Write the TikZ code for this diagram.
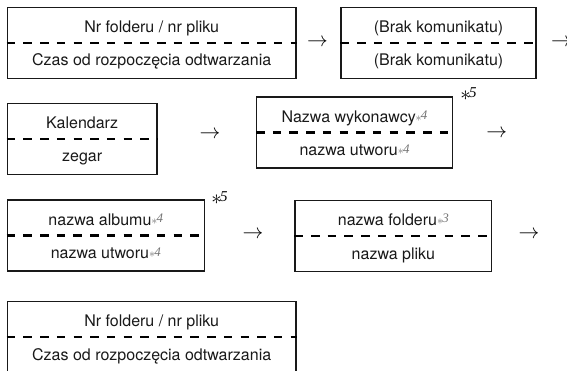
\documentclass[tikz,border=0pt]{standalone}
\usepackage{fontspec}
\setmainfont{TeX Gyre Heros}
\newfontfamily\starfont{Liberation Serif}
\usepackage{tikz}
\usetikzlibrary{positioning}
\definecolor{starcol}{gray}{0.45}
\tikzstyle{panel} = [rectangle, minimum height=71pt, inner sep=0pt, draw=black!90, line width=1.3pt]
\tikzstyle{half} = [rectangle, minimum height=35.5pt, inner sep=0pt, text=black!90, font=\fontsize{16}{19}\selectfont]
\tikzstyle{upper} = [half, anchor=north, text height=17pt, text depth=1.5pt]
\tikzstyle{lower} = [half, anchor=south, text height=12pt, text depth=2pt]
\tikzstyle{divider} = [black, line width=2.2pt, dash pattern=on 8.5pt off 8.2pt]
\tikzstyle{arrowsym} = [inner sep=0pt, font=\fontsize{20}{20}\selectfont]
\tikzstyle{mark5} = [inner sep=0pt, font=\fontsize{15}{15}\selectfont]
\newcommand{\fnote}[1]{\raisebox{2.5pt}{\fontsize{13}{13}\selectfont\color{starcol}\raisebox{-1.5pt}{$\ast$}\kern-0.8pt{\starfont\itshape #1}}}
\newcommand{\fivemark}{{\fontsize{20}{20}\selectfont\raisebox{-3pt}{$\ast$}}\kern-1.4pt{\starfont\itshape 5}}

\begin{document}
\begin{tikzpicture}[x=1pt, y=-1pt]
\useasboundingbox (0,0) rectangle (567,371);
% boxes
\node (b1) [panel, minimum width=288.7pt] at (151.7,42.8) {};
\node (b2) [panel, minimum width=195pt] at (438.5,42.8) {};
\node (b3) [panel, minimum width=149.7pt] at (82.2,138.8) {};
\node (b4) [panel, minimum width=195.6pt] at (354.5,132.5) {};
\node (b5) [panel, minimum width=197pt] at (105.8,235.5) {};
\node (b6) [panel, minimum width=196.7pt] at (393.3,235.8) {};
\node (b7) [panel, minimum width=288.7pt] at (151.7,337.2) {};

\foreach \b in {b1,b2,b3,b4,b5,b6,b7}
  \draw [divider] (\b.west) -- (\b.east);

% texts
\node (b1up) [upper] at (b1.north) {Nr folderu / nr pliku};
\node (b1lo) [lower] at (b1.south) {Czas od rozpoczęcia odtwarzania};
\node (b2up) [upper] at (b2.north) {(Brak komunikatu)};
\node (b2lo) [lower] at (b2.south) {(Brak komunikatu)};
\node (b3up) [upper] at (b3.north) {Kalendarz};
\node (b3lo) [lower] at (b3.south) {zegar};
\node (b4up) [upper] at (b4.north) {Nazwa wykonawcy\fnote{4}};
\node (b4lo) [lower] at (b4.south) {nazwa utworu\fnote{4}};
\node (b5up) [upper] at (b5.north) {nazwa albumu\fnote{4}};
\node (b5lo) [lower] at (b5.south) {nazwa utworu\fnote{4}};
\node (b6up) [upper] at (b6.north) {nazwa folderu\fnote{3}};
\node (b6lo) [lower] at (b6.south) {nazwa pliku};
\node (b7up) [upper] at (b7.north) {Nr folderu / nr pliku};
\node (b7lo) [lower] at (b7.south) {Czas od rozpoczęcia odtwarzania};

% *5 marks
\node (m4) [mark5] at (468.5,94) {\fivemark};
\node (m5) [mark5] at (219.5,198) {\fivemark};

% arrows
\node (ar1) [arrowsym] at (317.5,42.5) {$\rightarrow$};
\node (ar2) [arrowsym] at (561.5,42.5) {$\rightarrow$};
\node (ar3) [arrowsym] at (210,135) {$\rightarrow$};
\node (ar4) [arrowsym] at (496.7,134) {$\rightarrow$};
\node (ar5) [arrowsym] at (253,234.5) {$\rightarrow$};
\node (ar6) [arrowsym] at (529,235) {$\rightarrow$};
\end{tikzpicture}
\end{document}
